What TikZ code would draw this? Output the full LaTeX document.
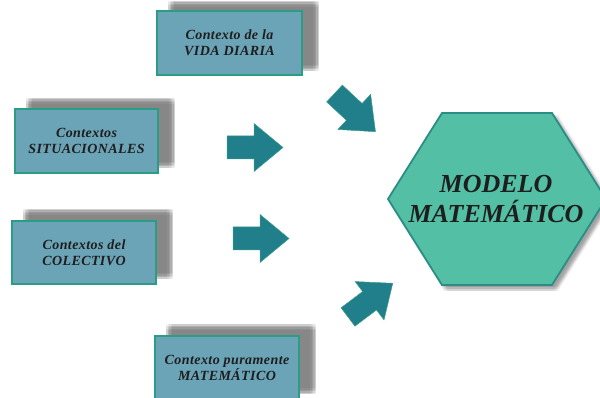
\documentclass[tikz,border=0pt]{standalone}
\usepackage{fontspec}
\setmainfont{Liberation Serif}
\definecolor{boxfill}{HTML}{6BA3B7}
\definecolor{boxline}{HTML}{2A9D84}
\definecolor{hexfill}{HTML}{53BFA5}
\definecolor{hexline}{HTML}{2C8C86}
\definecolor{arrowfill}{HTML}{217F8B}
\definecolor{arrowline}{HTML}{3A9E86}
\definecolor{txt}{HTML}{1E1E1E}
\newcommand{\rectshadow}[4]{%
  \foreach \dx in {-3,-1.5,0,1.5,3}{\foreach \dy in {-3,-1.5,0,1.5,3}{%
    \fill[black!52, fill opacity=0.09, shift={(\dx,\dy)}] (#1,#2) rectangle (#3,#4);}}}
\newcommand{\blockarrow}[3]{%
  \filldraw[blockarrow, shift={(#1,#2)}, rotate=#3]
    (0,-11.5) -- (27,-11.5) -- (27,-24) -- (56,0) -- (27,24) -- (27,11.5) -- (0,11.5) -- cycle;}
\begin{document}
\begin{tikzpicture}[x=1pt,y=-1pt,
  ctxbox/.style={draw=boxline, line width=1.1pt, fill=boxfill,
    minimum width=144pt, minimum height=64pt, inner sep=0pt, align=center,
    font=\fontsize{14}{15.5}\selectfont\bfseries\itshape\addfontfeature{LetterSpace=3}, text=txt},
  blockarrow/.style={fill=arrowfill, draw=arrowline, line width=0.5pt, line join=miter},
  hexshape/.style={fill=hexfill, draw=hexline, line width=1.8pt, line join=miter},
]
\path[use as bounding box] (0,0) rectangle (600,398);

% shadows of boxes
\rectshadow{171}{4}{316}{68}
\rectshadow{29}{101}{172}{165}
\rectshadow{26}{212}{170}{276}
\rectshadow{169}{327}{313}{391}

% boxes
\node[ctxbox, minimum width=145pt] (vida) at (229.5,43) {Contexto de la\\VIDA DIARIA};
\node[ctxbox, minimum width=143pt] (situ) at (86.5,141) {Contextos\\SITUACIONALES};
\node[ctxbox, minimum height=63pt] (cole) at (84,252.5) {Contextos del\\COLECTIVO};
\node[ctxbox] (mate) at (227,368) {Contexto puramente\\MATEM\'ATICO};

% hexagon shadow
\foreach \dx in {2,4,6}{\foreach \dy in {2,4,6}{%
  \fill[black!60, fill opacity=0.1, shift={(\dx,\dy)}]
    (442,113) -- (552,113) -- (606,199) -- (552,285) -- (442,285) -- (388,199) -- cycle;}}
% hexagon
\filldraw[hexshape] (442,113) -- (552,113) -- (606,199) -- (552,285) -- (442,285) -- (388,199) -- cycle;
\node[align=center, text=txt, font=\fontsize{26}{30}\selectfont\bfseries\itshape, inner sep=0pt]
  (modelo) at (496,199) {MODELO\\MATEM\'ATICO};

% arrows
\blockarrow{334.5}{93.5}{-43}
\blockarrow{227}{147.5}{0}
\blockarrow{233}{238.5}{0}
\blockarrow{348}{317}{37}
\end{tikzpicture}
\end{document}
